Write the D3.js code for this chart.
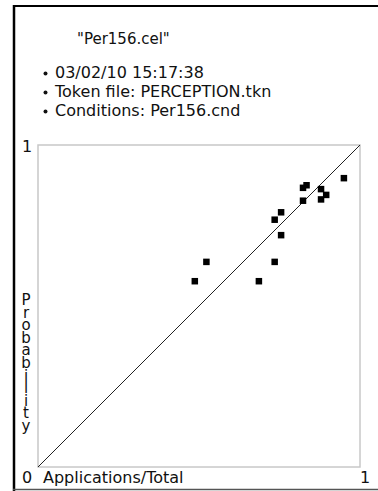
<!DOCTYPE html>
<html>
<head>
<meta charset="utf-8">
<script src="https://cdn.jsdelivr.net/npm/d3@7"></script>
<style>
  html, body { margin: 0; padding: 0; background: #fff; }
  svg { display: block; }
  text { font-family: "DejaVu Sans", Verdana, sans-serif; fill: #111; }
</style>
</head>
<body>
<script>
// Observed application rate (x) vs. predicted probability (y) per condition
const appRate = [0.487, 0.523, 0.686, 0.735, 0.755, 0.735, 0.755, 0.823, 0.823, 0.834, 0.879, 0.879, 0.895, 0.950];
const probability = [0.577, 0.637, 0.577, 0.637, 0.720, 0.768, 0.791, 0.827, 0.867, 0.875, 0.863, 0.831, 0.845, 0.897];

const titleText = '"Per156.cel"';
const infoLines = ["03/02/10 15:17:38", "Token file: PERCEPTION.tkn", "Conditions: Per156.cnd"];
const axisMin = "0";
const axisMax = "1";
const xTitle = "Applications/Total";
const yTitle = "Probability";

const W = 378, H = 491;
const svg = d3.select("body").append("svg").attr("width", W).attr("height", H);

// page frame: heavy left and top rules, light bottom rule
svg.append("line").attr("x1", 14).attr("x2", 14).attr("y1", 5).attr("y2", 491)
  .attr("stroke", "#000").attr("stroke-width", 2.5);
svg.append("line").attr("x1", 13).attr("x2", W).attr("y1", 6).attr("y2", 6)
  .attr("stroke", "#000").attr("stroke-width", 2);
svg.append("line").attr("x1", 13).attr("x2", W).attr("y1", 489.5).attr("y2", 489.5)
  .attr("stroke", "#555").attr("stroke-width", 1.5);

// header
svg.append("text").attr("x", 77).attr("y", 44).attr("font-size", 15).text(titleText);
const info = svg.append("g");
infoLines.forEach((t, i) => {
  const y = 78 + i * 19;
  info.append("circle").attr("cx", 45.5).attr("cy", y - 4.5).attr("r", 2).attr("fill", "#111");
  info.append("text").attr("x", 55).attr("y", y).attr("font-size", 16).text(t);
});

// plot area
const x = d3.scaleLinear().domain([0, 1]).range([38, 360]);
const y = d3.scaleLinear().domain([0, 1]).range([467, 145]);

svg.append("rect")
  .attr("x", x(0)).attr("y", y(1))
  .attr("width", x(1) - x(0)).attr("height", y(0) - y(1))
  .attr("fill", "#fff").attr("stroke", "#c8c8c8").attr("stroke-width", 1.5);

// identity line
svg.append("line")
  .attr("x1", x(0)).attr("y1", y(0)).attr("x2", x(1)).attr("y2", y(1))
  .attr("stroke", "#222").attr("stroke-width", 1);

// points
const sz = 6.5;
svg.append("g").selectAll("rect")
  .data(appRate.map((v, i) => [v, probability[i]]))
  .join("rect")
  .attr("x", d => x(d[0]) - sz / 2)
  .attr("y", d => y(d[1]) - sz / 2)
  .attr("width", sz).attr("height", sz)
  .attr("fill", "#000");

// axis end labels and titles
svg.append("text").attr("x", 22).attr("y", 152).attr("font-size", 16).text(axisMax);
svg.append("text").attr("x", 22).attr("y", 483).attr("font-size", 16).text(axisMin);
svg.append("text").attr("x", 43).attr("y", 483).attr("font-size", 16).text(xTitle);
svg.append("text").attr("x", 360).attr("y", 483).attr("font-size", 16).text(axisMax);

// stacked vertical y title
svg.append("g").selectAll("text")
  .data(yTitle.split(""))
  .join("text")
  .attr("x", 26)
  .attr("y", (d, i) => 305 + i * 12.6)
  .attr("text-anchor", "middle")
  .attr("font-size", 15)
  .text(d => d);
</script>
</body>
</html>
